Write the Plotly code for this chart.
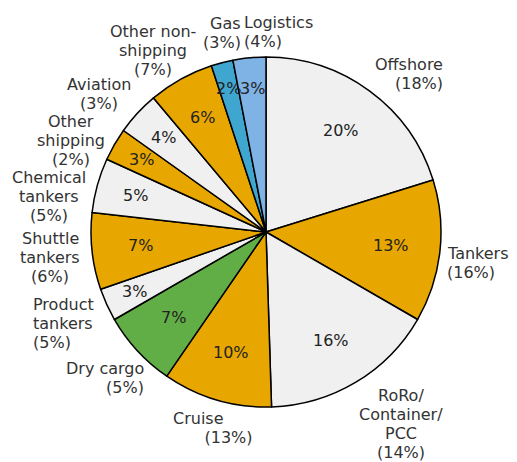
import math
import plotly.graph_objects as go

# ---- data ----
segments = ["Offshore", "Tankers", "RoRo/Container/PCC", "Cruise", "Dry cargo",
            "Product tankers", "Shuttle tankers", "Chemical tankers", "Other shipping",
            "Aviation", "Other non-shipping", "Gas", "Logistics"]
share_inner = [20, 13, 16, 10, 7, 3, 7, 5, 3, 4, 6, 2, 3]
share_outer = [18, 16, 14, 13, 5, 5, 6, 5, 2, 3, 7, 3, 4]
outer_label_text = ["Offshore", "Tankers", "RoRo/<br>Container/<br>PCC",
                    "Cruise", "Dry cargo", "Product<br>tankers",
                    "Shuttle<br>tankers", "Chemical<br>tankers", "Other<br>shipping",
                    "Aviation", "Other non-<br>shipping", "Gas", "Logistics"]

# ---- style ----
GOLD = "#E8A700"
GRAY = "#F0F0F0"
GREEN = "#62AE46"
BLUE = "#3FA6D0"
LBLUE = "#7FB2E5"
colors = [GRAY, GOLD, GRAY, GOLD, GREEN, GRAY, GOLD, GRAY, GOLD, GRAY, GOLD, BLUE, LBLUE]
FONT = "DejaVu Sans"
TXT = "#333333"
NB = "\u00a0"
LINE_STEP = 19  # px between label lines

# page body has an 8px margin: the figure starts at (8, 8) in the window
OFF = 8
W, H = 517 - OFF, 462 - OFF
CX, CY, R = 266 - OFF, 232 - OFF, 175

fig = go.Figure(go.Pie(
    labels=segments,
    values=share_inner,
    textinfo="none",
    marker=dict(colors=colors, line=dict(color="#000000", width=1.5)),
    sort=False,
    direction="clockwise",
    rotation=0,
    showlegend=False,
    hoverinfo="label+value",
    domain=dict(x=[(CX - R) / W, (CX + R) / W], y=[(H - CY - R) / H, (H - CY + R) / H]),
))

# inside percentage labels, placed at each slice's mid-angle (narrow slices further out)
total = sum(share_inner)
cum = 0.0
for v in share_inner:
    mid = (cum + v / 2) / total * 2 * math.pi
    cum += v
    rf = (0.72 + 0.13 * max(0, 7 - v) / 5) * R
    px = CX + rf * math.sin(mid)
    py = CY - rf * math.cos(mid)
    fig.add_annotation(
        x=px / W, y=1 - py / H, xref="paper", yref="paper",
        text=f"{v}%", showarrow=False, xanchor="center", yanchor="middle",
        borderpad=0, borderwidth=0,
        font=dict(family=FONT, size=16, color="#222222"),
    )

# outside label anchors (window pixel positions of the text block; layout only)
label_pos = [
    (443, 74, "right"),    # Offshore
    (447, 263, "left"),    # Tankers
    (401, 424, "center"),  # RoRo
    (213, 428, "center"),  # Cruise
    (144, 378, "right"),   # Dry cargo
    (33, 323, "left"),     # Product tankers
    (50, 257, "center"),   # Shuttle
    (49, 196, "center"),   # Chemical
    (71, 140, "center"),   # Other shipping
    (99, 94, "center"),    # Aviation
    (153, 51, "center"),   # Other non-shipping
    (241, 33, "right"),    # Gas
    (244, 32, "left"),     # Logistics
]

for txt, pct, (px, py, al) in zip(outer_label_text, share_outer, label_pos):
    lines = txt.split("<br>") + [f"({pct}%)"]
    if txt == "Cruise":
        lines = [lines[0] + NB * 6, NB * 6 + lines[1]]
    n = len(lines)
    for i, line in enumerate(lines):
        ly = py + (i - (n - 1) / 2) * LINE_STEP
        fig.add_annotation(
            x=(px - OFF) / W, y=1 - (ly - OFF) / H, xref="paper", yref="paper",
            text=line, showarrow=False,
            xanchor=al, yanchor="middle", align=al,
            borderpad=0, borderwidth=0,
            font=dict(family=FONT, size=16, color=TXT),
        )

fig.update_layout(
    width=W, height=H,
    margin=dict(l=0, r=0, t=0, b=0),
    paper_bgcolor="white",
    plot_bgcolor="white",
)

fig.write_html("out.html")
